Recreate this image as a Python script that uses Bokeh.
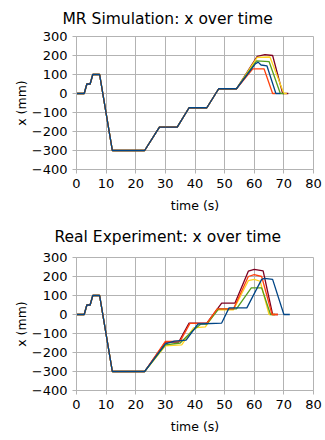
from bokeh.plotting import figure
from bokeh.layouts import column
from bokeh.models import FixedTicker, Range1d
from bokeh.embed import file_html
from bokeh.resources import INLINE

# ---- data ----
x_ticks = [0, 10, 20, 30, 40, 50, 60, 70, 80]
y_ticks = [-400, -300, -200, -100, 0, 100, 200, 300]

series_names = ["s5", "s3", "s4", "s2", "s1"]
series_colors = ["#7E0021", "#FFD320", "#579D1C", "#FF420E", "#004586"]

common_t = [0, 2.6, 3.5, 4.6, 5.5, 7.8, 12.1, 23]
common_x = [0, 0, 50, 50, 100, 100, -300, -300]

sim_shared_t = [28, 34, 38, 44, 48, 54]
sim_shared_x = [-177, -177, -75, -75, 25, 25]

sim_tail_t = {
    "s5": [61.0, 63.6, 66.2, 69.6, 71.5],
    "s3": [61.0, 65.3, 70.0, 71.0],
    "s4": [60.8, 65.0, 68.8, 70.0],
    "s2": [59.5, 63.3, 66.2, 67.2],
    "s1": [60.3, 61.3, 62.3, 64.3, 67.3, 68.8],
}
sim_tail_x = {
    "s5": [196, 205, 200, 0, 0],
    "s3": [190, 192, 0, 0],
    "s4": [172, 168, 0, 0],
    "s2": [130, 130, 0, 0],
    "s1": [155, 165, 150, 145, 0, 0],
}

exp_tail_t = {
    "s5": [30, 34.5, 38, 44, 49, 53.5, 58, 60, 63, 66.2, 68],
    "s3": [30, 35.5, 39.5, 43.5, 47.5, 53, 58, 60, 62, 65, 67],
    "s4": [30, 35, 39, 42, 44, 48, 54, 59, 62.5, 65.5, 67],
    "s2": [30, 35, 38.3, 44, 47.5, 53, 58, 60, 62.5, 66, 68],
    "s1": [30, 33, 37, 41, 49, 51.5, 57.5, 62.5, 63.5, 66.2, 70, 72],
}
exp_tail_x = {
    "s5": [-145, -145, -45, -45, 60, 60, 228, 237, 230, 0, 0],
    "s3": [-165, -160, -70, -65, 25, 25, 178, 185, 175, 0, 0],
    "s4": [-160, -150, -88, -50, -50, 30, 30, 140, 140, 0, 0],
    "s2": [-142, -140, -47, -47, 30, 30, 200, 210, 200, 0, 0],
    "s1": [-155, -140, -135, -50, -45, 35, 35, 185, 190, 185, 0, 0],
}

titles = ["MR Simulation: x over time", "Real Experiment: x over time"]

GRID = "#b3b3b3"
FONT = "DejaVu Sans"


def make_fig(title, height, top, bottom, t_offset, t_standoff):
    p = figure(width=325, height=height, output_backend="svg", toolbar_location=None,
               x_range=Range1d(0, 80), y_range=Range1d(-400, 300),
               min_border_left=76, min_border_right=12, min_border_top=top,
               min_border_bottom=bottom)
    p.title.text = title
    p.title.text_font = FONT
    p.title.text_font_size = "15.5px"
    p.title.text_font_style = "normal"
    p.title.text_color = "black"
    p.title.align = "left"
    p.title.offset = t_offset
    p.title.vertical_align = "top"
    p.title.standoff = t_standoff
    p.outline_line_color = GRID
    p.background_fill_color = "white"
    p.border_fill_color = "white"
    for ax in (p.xaxis[0], p.yaxis[0]):
        ax.axis_line_color = GRID
        ax.major_tick_line_color = GRID
        ax.minor_tick_line_color = None
        ax.major_tick_in = 0
        ax.major_tick_out = 4
        ax.major_label_text_font = FONT
        ax.major_label_text_font_size = "13px"
        ax.major_label_text_color = "black"
        ax.axis_label_text_font = FONT
        ax.axis_label_text_font_size = "12.5px"
        ax.axis_label_text_font_style = "normal"
        ax.axis_label_text_color = "black"
    p.xaxis.ticker = FixedTicker(ticks=x_ticks)
    p.yaxis.ticker = FixedTicker(ticks=y_ticks)
    p.xaxis.axis_label = "time (s)"
    p.yaxis.axis_label = "x (mm)"
    p.xaxis.major_label_standoff = 5
    p.xaxis.axis_label_standoff = 7
    p.yaxis.major_label_standoff = 5
    p.yaxis.axis_label_standoff = 0
    p.grid.grid_line_color = GRID
    p.grid.grid_line_width = 1
    return p


p1 = make_fig(titles[0], 217, 36, 48, -14, 14)
for name, col in zip(series_names, series_colors):
    t = common_t + sim_shared_t + sim_tail_t[name]
    x = common_x + sim_shared_x + sim_tail_x[name]
    p1.line(t, x, line_color=col, line_width=1.3)

p2 = make_fig(titles[1], 223, 40, 50, -22, 19)
for name, col in zip(series_names, series_colors):
    t = common_t + exp_tail_t[name]
    x = common_x + exp_tail_x[name]
    p2.line(t, x, line_color=col, line_width=1.3)

layout = column(p1, p2, spacing=0)
open("out.html", "w").write(file_html(layout, INLINE))
